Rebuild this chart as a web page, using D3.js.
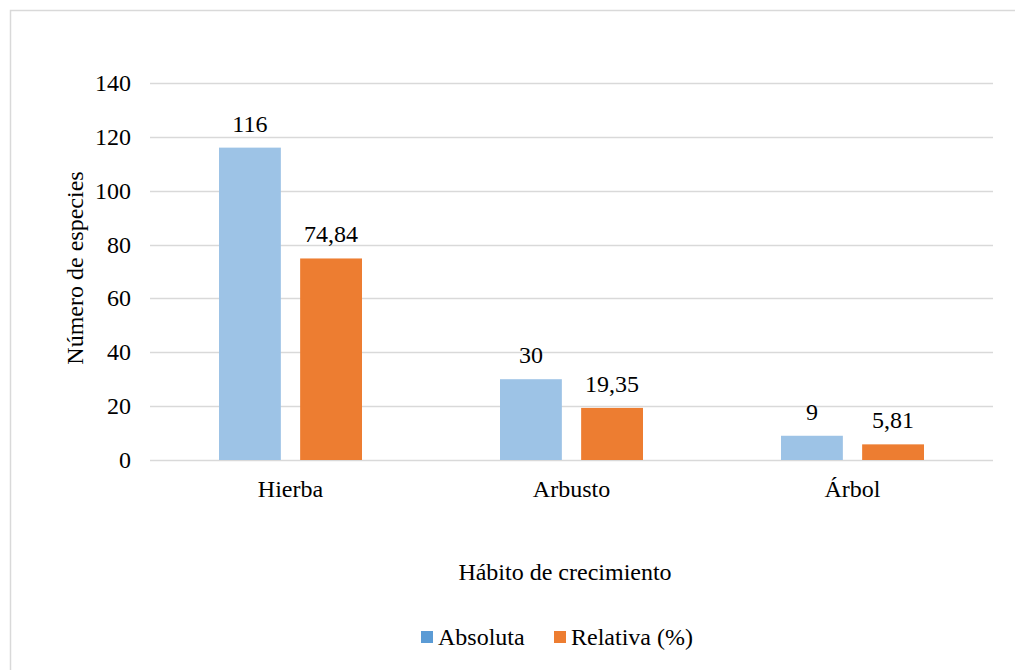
<!DOCTYPE html>
<html><head><meta charset="utf-8">
<script src="https://cdn.jsdelivr.net/npm/d3@7"></script>
<style>body{margin:0;background:#fff}svg{display:block}</style>
</head><body>
<script>
const categories = ["Hierba", "Arbusto", "Árbol"];
const absoluta = [116, 30, 9];
const relativa = [74.84, 19.35, 5.81];
const seriesNames = ["Absoluta", "Relativa (%)"];
const yTicks = [0, 20, 40, 60, 80, 100, 120, 140];
const labelAbs = ["116", "30", "9"];
const labelRel = ["74,84", "19,35", "5,81"];

(function(){
const W = 1015, H = 670;
const FONT = '"Liberation Serif", "Times New Roman", Tinos, serif';
const FS = "24px";
const svg = d3.select("body").append("svg").attr("width", W).attr("height", H);
svg.append("rect").attr("x", 10.5).attr("y", 10.5).attr("width", 1020).attr("height", 700)
  .attr("fill", "#fff").attr("stroke", "#d9d9d9").attr("stroke-width", 1.5);

const pLeft = 150, pRight = 993, pTop = 83, pBottom = 460;
const y = d3.scaleLinear().domain([0, 140]).range([pBottom, pTop]);
const x0 = d3.scaleBand().domain(categories).range([pLeft, pRight]);
const x1 = d3.scaleBand().domain(seriesNames).range([x0.bandwidth()/2 - 71.5, x0.bandwidth()/2 + 71.5]).paddingInner(17/143*2);
const colors = ["#9DC3E6", "#ED7D31"];
const legendColors = ["#5B9BD5", "#ED7D31"];

function txt(sel) {
  return sel.style("font-family", FONT).style("font-size", FS).attr("fill", "#000");
}

const g = svg.append("g");
g.selectAll("line.grid").data(yTicks).join("line")
  .attr("x1", pLeft).attr("x2", pRight)
  .attr("y1", d => Math.round(y(d)) + 0.5).attr("y2", d => Math.round(y(d)) + 0.5)
  .attr("stroke", "#d9d9d9").attr("stroke-width", 1.5);
txt(g.selectAll("text.ytick").data(yTicks).join("text")
  .attr("x", 131).attr("y", d => y(d) + 8)
  .attr("text-anchor", "end"))
  .text(d => d);

const data = categories.map((c, i) => ({c, vals: [absoluta[i], relativa[i]], labels: [labelAbs[i], labelRel[i]]}));
const cg = g.selectAll("g.cat").data(data).join("g").attr("transform", d => `translate(${x0(d.c)},0)`);
cg.selectAll("rect").data(d => d.vals.map((v, j) => ({v, j}))).join("rect")
  .attr("x", d => x1(seriesNames[d.j])).attr("width", x1.bandwidth())
  .attr("y", d => y(d.v)).attr("height", d => y(0) - y(d.v))
  .attr("fill", d => colors[d.j]);
txt(cg.selectAll("text").data(d => d.vals.map((v, j) => ({v, j, l: d.labels[j]}))).join("text")
  .attr("x", d => x1(seriesNames[d.j]) + x1.bandwidth()/2).attr("y", d => y(d.v) - 16)
  .attr("text-anchor", "middle"))
  .text(d => d.l);

txt(g.selectAll("text.xcat").data(categories).join("text")
  .attr("x", d => x0(d) + x0.bandwidth()/2).attr("y", 497)
  .attr("text-anchor", "middle"))
  .text(d => d);

txt(svg.append("text").attr("x", 565).attr("y", 580)
  .attr("text-anchor", "middle"))
  .text("Hábito de crecimiento");
txt(svg.append("text").attr("transform", `translate(83,268) rotate(-90)`)
  .attr("text-anchor", "middle"))
  .text("Número de especies");

const leg = svg.append("g");
const legX = [421, 554];
seriesNames.forEach((s, i) => {
  leg.append("rect").attr("x", legX[i]).attr("y", 631).attr("width", 12).attr("height", 12).attr("fill", legendColors[i]);
  txt(leg.append("text").attr("x", legX[i] + 17).attr("y", 645)).text(s);
});
})();
</script>
</body></html>
